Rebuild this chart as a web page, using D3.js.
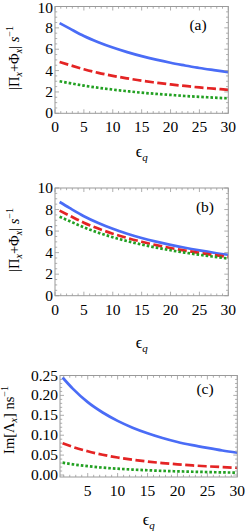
<!DOCTYPE html>
<html>
<head>
<meta charset="utf-8">
<script src="https://cdn.jsdelivr.net/npm/d3@7"></script>
<style>
  body { margin: 0; background: #fff; }
  svg { display: block; }
</style>
</head>
<body>
<svg id="chart" width="245" height="531"></svg>
<script>
// epsilon_q values shared by all three panels
const epsQ = [0.8, 2.5, 5, 7.5, 10, 12.5, 15, 17.5, 20, 22.5, 25, 27.5, 30];

// panel (a)
const aSolid  = [8.44, 7.95, 7.24, 6.66, 6.16, 5.73, 5.35, 5.02, 4.73, 4.48, 4.24, 4.04, 3.85];
const aDashed = [4.80, 4.52, 4.13, 3.79, 3.51, 3.27, 3.05, 2.87, 2.70, 2.56, 2.42, 2.31, 2.20];
const aDotted = [3.00, 2.83, 2.59, 2.39, 2.22, 2.07, 1.93, 1.82, 1.72, 1.62, 1.54, 1.47, 1.40];

// panel (b)
const bSolid  = [8.70, 8.15, 7.38, 6.75, 6.21, 5.76, 5.36, 5.02, 4.72, 4.45, 4.21, 3.99, 3.80];
const bDashed = [7.90, 7.44, 6.78, 6.23, 5.76, 5.36, 5.01, 4.70, 4.43, 4.19, 3.97, 3.78, 3.60];
const bDotted = [7.33, 6.93, 6.35, 5.85, 5.43, 5.07, 4.75, 4.47, 4.22, 4.00, 3.80, 3.62, 3.45];

// panel (c)
const cSolid  = [0.245, 0.217, 0.183, 0.157, 0.136, 0.119, 0.105, 0.093, 0.083, 0.075, 0.068, 0.0615, 0.056];
const cDashed = [0.080, 0.0706, 0.0596, 0.0509, 0.0440, 0.0384, 0.0339, 0.0300, 0.0268, 0.0241, 0.0218, 0.0198, 0.0180];
const cDotted = [0.031, 0.0269, 0.0222, 0.0186, 0.0158, 0.0136, 0.0119, 0.0104, 0.0092, 0.0082, 0.0074, 0.0066, 0.0060];

// tick labels
const xTicksAB = [0, 5, 10, 15, 20, 25, 30];
const xTicksC = [5, 10, 15, 20, 25, 30];
const yTicksAB = [0, 2, 4, 6, 8, 10];
const yTicksC = [0, 0.05, 0.10, 0.15, 0.20, 0.25];

((() => {
  const FONT = "'Liberation Serif', 'Times New Roman', 'DejaVu Serif', serif";
  const svg = d3.select("#chart")
    .attr("font-family", FONT);

  const styles = [
    { color: "#4a6cf6", dash: null },
    { color: "#e42424", dash: "9,3.5" },
    { color: "#22a022", dash: "2.6,2" },
  ];

  function drawPanel(p) {
    const x = d3.scaleLinear().domain(p.xDomain).range([p.left, p.right]);
    const y = d3.scaleLinear().domain(p.yDomain).range([p.bottom, p.top]);
    const g = svg.append("g");

    // curves
    const line = d3.line()
      .x((d, i) => x(epsQ[i]))
      .y(d => y(d))
      .curve(d3.curveMonotoneX);

    p.series.forEach((s, i) => {
      g.append("path")
        .attr("d", line(s))
        .attr("fill", "none")
        .attr("stroke", styles[i].color)
        .attr("stroke-width", 2.7)
        .attr("stroke-dasharray", styles[i].dash);
    });

    // frame
    g.append("rect")
      .attr("x", p.left).attr("y", p.top)
      .attr("width", p.right - p.left).attr("height", p.bottom - p.top)
      .attr("fill", "none").attr("stroke", "#9a9a9a").attr("stroke-width", 1);

    // ticks on all four sides, pointing inwards
    const tk = g.append("g").attr("stroke", "#9a9a9a").attr("stroke-width", 0.8);
    const xMinor = d3.range(Math.ceil(p.xDomain[0]), p.xDomain[1] + 0.001, 1);
    xMinor.forEach(v => {
      const len = v % 5 === 0 ? 4 : 2.2;
      tk.append("line").attr("x1", x(v)).attr("x2", x(v)).attr("y1", p.bottom).attr("y2", p.bottom - len);
      tk.append("line").attr("x1", x(v)).attr("x2", x(v)).attr("y1", p.top).attr("y2", p.top + len);
    });
    const nMinor = Math.round((p.yTicks[1] - p.yTicks[0]) / p.yMinorStep);
    const yMinor = d3.range(0, Math.round(p.yTicks[p.yTicks.length - 1] / p.yMinorStep) + 1);
    yMinor.forEach(k => {
      const v = k * p.yMinorStep;
      const len = k % nMinor === 0 ? 4 : 2.2;
      tk.append("line").attr("x1", p.left).attr("x2", p.left + len).attr("y1", y(v)).attr("y2", y(v));
      tk.append("line").attr("x1", p.right).attr("x2", p.right - len).attr("y1", y(v)).attr("y2", y(v));
    });

    // tick labels
    g.selectAll(".xl").data(p.xTicks).enter().append("text")
      .attr("x", d => x(d)).attr("y", p.bottom + 19)
      .attr("text-anchor", "middle").style("font-size", "15.5px").style("font-family", FONT)
      .text(d => d);
    g.selectAll(".yl").data(p.yTicks).enter().append("text")
      .attr("x", p.left - 2).attr("y", d => Math.max(y(d) + 5, 13))
      .attr("text-anchor", "end").style("font-size", "15.5px").style("font-family", FONT)
      .text(d => p.yFormat(d));

    // panel tag
    g.append("text")
      .attr("x", p.tagX).attr("y", p.tagY)
      .attr("text-anchor", "middle").style("font-size", "15.5px").style("font-family", FONT)
      .text(p.tag);

    // x title
    const xt = g.append("text")
      .attr("x", (p.left + p.right) / 2).attr("y", p.xTitleY)
      .attr("text-anchor", "middle").style("font-size", "16px").style("font-family", FONT);
    xt.append("tspan").text("ϵ");
    xt.append("tspan").attr("dy", 4).style("font-size", "11px").style("font-style", "italic").text("q");

    // y title
    const yt = g.append("text")
      .attr("transform", `translate(${p.yTitleX},${p.yTitleY}) rotate(-90)`)
      .attr("text-anchor", "middle").style("font-size", "14.5px").style("font-family", FONT);
    p.yTitle(yt);
  }

  function sub(t, s) {
    t.append("tspan").attr("dy", 3).style("font-size", "10px").style("font-style", "italic").text(s);
  }

  function pxTitle(t) {
    t.append("tspan").text("|Π");
    sub(t, "x");
    t.append("tspan").attr("dy", -3).text("+Φ");
    sub(t, "x");
    t.append("tspan").attr("dy", -3).text("| ");
    t.append("tspan").style("font-style", "italic").text("s");
    t.append("tspan").attr("dy", -6).style("font-size", "10px").text("−1");
  }

  drawPanel({
    left: 55, right: 228.3, top: 6.5, bottom: 113.3,
    xDomain: [0, 30], yDomain: [0, 10],
    xTicks: xTicksAB, yTicks: yTicksAB, yMinorStep: 0.5, yFormat: d => d,
    series: [aSolid, aDashed, aDotted],
    tag: "(a)", tagX: 198, tagY: 30,
    xTitleY: 157, yTitleX: 19, yTitleY: 58, yTitle: pxTitle
  });

  drawPanel({
    left: 55, right: 228.3, top: 188, bottom: 295.7,
    xDomain: [0, 30], yDomain: [0, 10],
    xTicks: xTicksAB, yTicks: yTicksAB, yMinorStep: 0.5, yFormat: d => d,
    series: [bSolid, bDashed, bDotted],
    tag: "(b)", tagX: 205, tagY: 212,
    xTitleY: 348, yTitleX: 19, yTitleY: 240, yTitle: pxTitle
  });

  drawPanel({
    left: 60, right: 237.3, top: 375.5, bottom: 477,
    xDomain: [0.37, 30], yDomain: [-0.005, 0.25],
    xTicks: xTicksC, yTicks: yTicksC, yMinorStep: 0.01, yFormat: d3.format(".2f"),
    series: [cSolid, cDashed, cDotted],
    tag: "(c)", tagX: 205, tagY: 394,
    xTitleY: 525, yTitleX: 14, yTitleY: 420,
    yTitle: t => {
      t.append("tspan").text("Im[Λ");
      sub(t, "x");
      t.append("tspan").attr("dy", -3).text("] ns");
      t.append("tspan").attr("dy", -6).style("font-size", "10px").text("−1");
    }
  });
})());
</script>
</body>
</html>
